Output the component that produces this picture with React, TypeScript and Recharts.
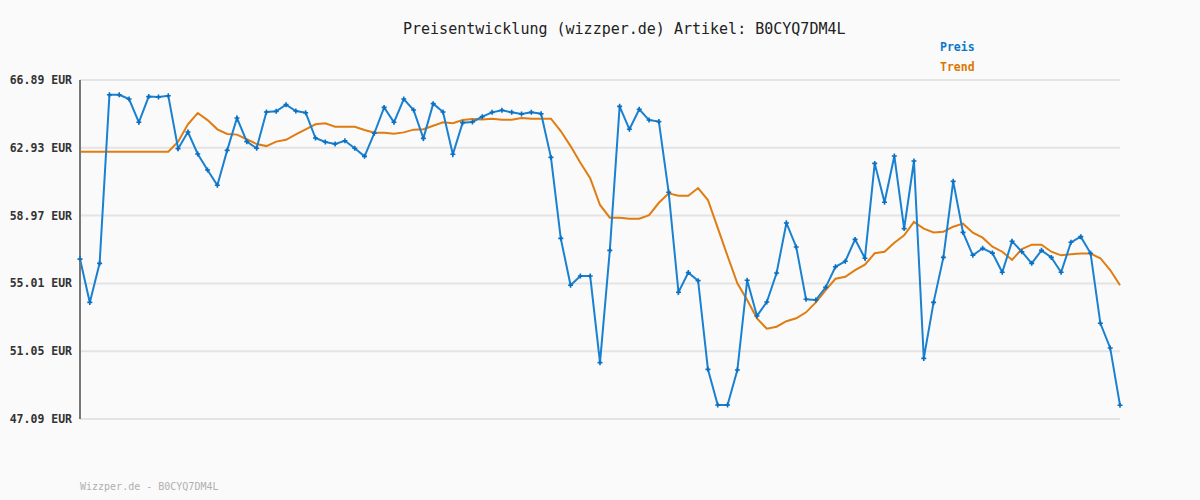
import { LineChart, Line, XAxis, YAxis, CartesianGrid } from 'recharts';

const preis = [
  56.43, 53.9, 56.18, 66.03, 66.03, 65.78, 64.42, 65.92, 65.9, 65.97,
  62.88, 63.85, 62.57, 61.63, 60.74, 62.78, 64.67, 63.29, 62.9, 65.02,
  65.06, 65.45, 65.08, 64.98, 63.5, 63.27, 63.15, 63.34, 62.9, 62.43,
  63.78, 65.29, 64.42, 65.78, 65.14, 63.48, 65.51, 65.02, 62.55, 64.4,
  64.44, 64.75, 65.0, 65.12, 65.0, 64.9, 65.0, 64.92, 62.37, 57.64,
  54.9, 55.44, 55.44, 50.38, 56.94, 65.35, 64.01, 65.18, 64.55, 64.46,
  60.33, 54.49, 55.64, 55.17, 49.99, 47.91, 47.91, 49.95, 55.19, 53.11,
  53.92, 55.62, 58.54, 57.14, 54.08, 54.04, 54.78, 55.98, 56.3, 57.58,
  56.48, 62.02, 59.75, 62.45, 58.21, 62.16, 50.63, 53.9, 56.53, 60.97,
  57.99, 56.65, 57.06, 56.78, 55.66, 57.47, 56.86, 56.18, 56.94, 56.53,
  55.66, 57.41, 57.74, 56.77, 52.68, 51.24, 47.89,
];

const trend = [
  62.7, 62.7, 62.7, 62.7, 62.7, 62.7, 62.7, 62.7, 62.7, 62.7,
  63.29, 64.3, 64.96, 64.55, 64.01, 63.74, 63.7, 63.43, 63.15, 63.03,
  63.29, 63.4, 63.72, 64.01, 64.3, 64.36, 64.16, 64.16, 64.16, 63.97,
  63.81, 63.81, 63.75, 63.83, 63.99, 64.01, 64.22, 64.42, 64.36, 64.55,
  64.61, 64.59, 64.63, 64.57, 64.57, 64.67, 64.63, 64.63, 64.63, 63.91,
  63.03, 62.06, 61.15, 59.59, 58.85, 58.85, 58.79, 58.79, 59.0, 59.72,
  60.27, 60.13, 60.13, 60.58, 59.88, 58.25, 56.61, 55.02, 54.04, 52.97,
  52.36, 52.48, 52.8, 52.97, 53.32, 53.9, 54.62, 55.28, 55.4, 55.78,
  56.1, 56.77, 56.86, 57.39, 57.82, 58.6, 58.21, 57.99, 58.03, 58.32,
  58.5, 57.97, 57.68, 57.15, 56.86, 56.38, 57.02, 57.27, 57.27, 56.86,
  56.65, 56.71, 56.75, 56.75, 56.48, 55.79, 54.9,
];

const yTicks = [47.09, 51.05, 55.01, 58.97, 62.93, 66.89];

const data = preis.map((p, i) => ({ i, preis: p, trend: trend[i] }));

const mono = '"DejaVu Sans Mono", monospace';
const blue = '#1a80d0';
const orange = '#e07c12';

function CrossDot(props: any) {
  const { cx, cy } = props;
  if (cx == null || cy == null) return null;
  return (
    <path
      d={`M${cx - 2.5},${cy}h5M${cx},${cy - 2.5}v5`}
      stroke="#0a6fc0"
      strokeWidth={1.6}
      fill="none"
    />
  );
}

export default function App() {
  return (
    <div
      style={{
        position: 'absolute',
        left: 0,
        top: 0,
        width: 1200,
        height: 500,
        background: '#fafafa',
        fontFamily: mono,
      }}
    >
      <div
        style={{
          position: 'absolute',
          left: 403,
          top: 20,
          fontSize: 15,
          lineHeight: '18px',
          color: '#222',
          whiteSpace: 'pre',
        }}
      >
        Preisentwicklung (wizzper.de) Artikel: B0CYQ7DM4L
      </div>
      <div
        style={{
          position: 'absolute',
          left: 940,
          top: 39,
          fontSize: 11.5,
          fontWeight: 'bold',
          lineHeight: '16px',
          color: '#0a78c8',
        }}
      >
        Preis
      </div>
      <div
        style={{
          position: 'absolute',
          left: 940,
          top: 59,
          fontSize: 11.5,
          fontWeight: 'bold',
          lineHeight: '16px',
          color: '#dd7700',
        }}
      >
        Trend
      </div>
      <div
        style={{
          position: 'absolute',
          left: 80,
          top: 480,
          fontSize: 10,
          lineHeight: '14px',
          color: '#b0b0b0',
          whiteSpace: 'pre',
        }}
      >
        Wizzper.de - B0CYQ7DM4L
      </div>
      <LineChart
        width={1200}
        height={500}
        data={data}
        margin={{ top: 80, right: 80, bottom: 81, left: 0 }}
      >
        <CartesianGrid vertical={false} stroke="#e4e4e4" strokeWidth={2} />
        <XAxis
          dataKey="i"
          tick={false}
          tickLine={false}
          axisLine={{ stroke: '#777', strokeWidth: 2 }}
          height={0}
        />
        <YAxis
          domain={[47.09, 66.89]}
          ticks={yTicks}
          width={80}
          tickLine={false}
          tickSize={0}
          tickMargin={8}
          axisLine={{ stroke: '#777', strokeWidth: 2 }}
          tickFormatter={(v) => `${Number(v).toFixed(2)} EUR`}
          tick={{ fontFamily: mono, fontSize: 11.5, fontWeight: 'bold', fill: '#333' }}
          interval={0}
        />
        <Line
          type="linear"
          dataKey="trend"
          stroke={orange}
          strokeWidth={2}
          dot={false}
          isAnimationActive={false}
        />
        <Line
          type="linear"
          dataKey="preis"
          stroke={blue}
          strokeWidth={2}
          dot={<CrossDot />}
          isAnimationActive={false}
        />
      </LineChart>
    </div>
  );
}
